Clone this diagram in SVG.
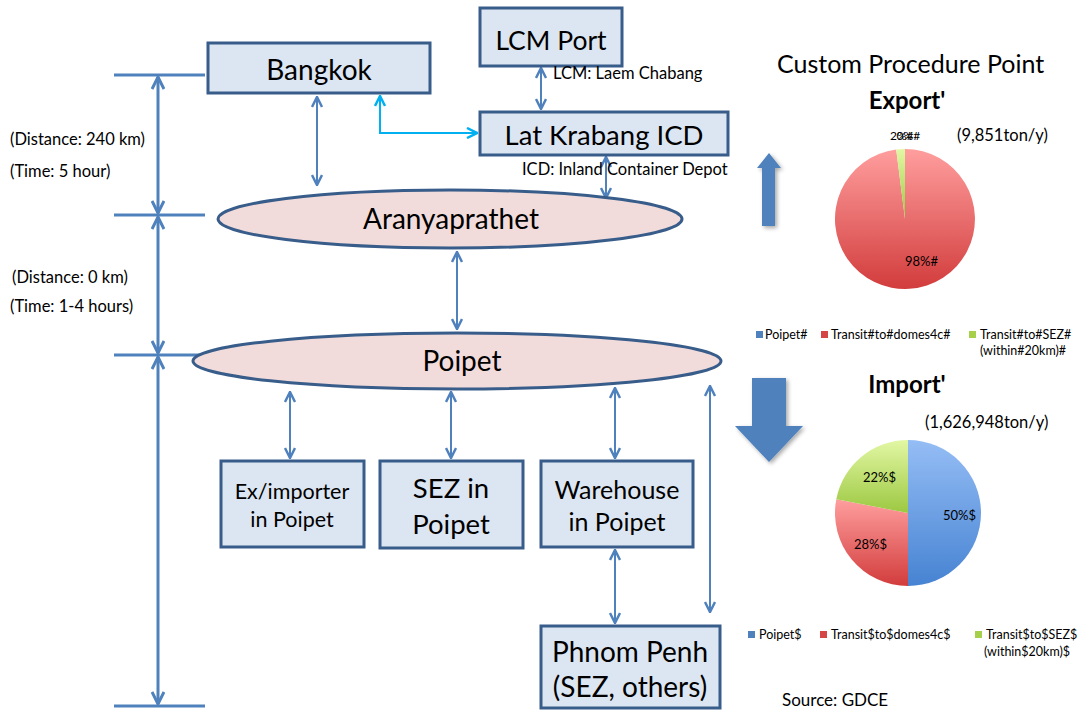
<svg xmlns="http://www.w3.org/2000/svg" width="1087" height="713" viewBox="0 0 1087 713">
  <style>
    text { font-family: Lato, "Open Sans", "Liberation Sans", sans-serif; fill: #000; }
    .box { fill: #dce6f2; stroke: #385d8a; stroke-width: 3; }
    .oval { fill: #f2dcdb; stroke: #385d8a; stroke-width: 3; }
    .dim { stroke: #4f81bd; stroke-width: 3; fill: none; }
    .link { stroke: #4f81bd; stroke-width: 2; fill: none; }
    .cyan { stroke: #00b0f0; stroke-width: 2; fill: none; }
    .lbl { font-size: 16.5px; }
    .lg { font-size: 12.5px; }
    .big { font-size: 28px; }
    .pct { font-size: 13px; }
  </style>
  <defs>
    <marker id="chev" viewBox="0 0 12 12" refX="11" refY="6" markerWidth="12" markerHeight="12" orient="auto-start-reverse" markerUnits="userSpaceOnUse">
      <path d="M1,1 L11,6 L1,11" fill="none" stroke="#4f81bd" stroke-width="2.5"/>
    </marker>
    <marker id="chevDim" viewBox="0 0 14 14" refX="13" refY="7" markerWidth="14" markerHeight="14" orient="auto-start-reverse" markerUnits="userSpaceOnUse">
      <path d="M1,1 L13,7 L1,13" fill="none" stroke="#4f81bd" stroke-width="3"/>
    </marker>
    <marker id="chevCyan" viewBox="0 0 12 12" refX="11" refY="6" markerWidth="12" markerHeight="12" orient="auto-start-reverse" markerUnits="userSpaceOnUse">
      <path d="M1,1 L11,6 L1,11" fill="none" stroke="#00b0f0" stroke-width="2.5"/>
    </marker>
    <linearGradient id="gRed" x1="0" y1="0" x2="0" y2="1">
      <stop offset="0" stop-color="#ff9e9e"/>
      <stop offset="1" stop-color="#d23c3c"/>
    </linearGradient>
    <linearGradient id="gBlue" x1="0" y1="0" x2="0" y2="1">
      <stop offset="0" stop-color="#95bdf5"/>
      <stop offset="1" stop-color="#4683d2"/>
    </linearGradient>
    <linearGradient id="gGreen" x1="0" y1="0" x2="0" y2="1">
      <stop offset="0" stop-color="#e2f7a4"/>
      <stop offset="1" stop-color="#9cc841"/>
    </linearGradient>
    <filter id="shadow" x="-30%" y="-30%" width="160%" height="160%">
      <feGaussianBlur in="SourceAlpha" stdDeviation="2"/>
      <feOffset dx="2" dy="2" result="b"/>
      <feComponentTransfer><feFuncA type="linear" slope="0.35"/></feComponentTransfer>
      <feMerge><feMergeNode/><feMergeNode in="SourceGraphic"/></feMerge>
    </filter>
  </defs>

  <!-- distance / time scale on the left -->
  <g id="scale">
    <line class="dim" x1="114" y1="75" x2="205" y2="75"/>
    <line class="dim" x1="114" y1="215" x2="205" y2="215"/>
    <line class="dim" x1="114" y1="355" x2="205" y2="355"/>
    <line class="dim" x1="114" y1="706" x2="205" y2="706"/>
    <line class="dim" x1="158" y1="77" x2="158" y2="213" marker-start="url(#chevDim)" marker-end="url(#chevDim)"/>
    <line class="dim" x1="158" y1="217" x2="158" y2="353" marker-start="url(#chevDim)" marker-end="url(#chevDim)"/>
    <line class="dim" x1="158" y1="357" x2="158" y2="704" marker-start="url(#chevDim)" marker-end="url(#chevDim)"/>
    <text class="lbl" x="10" y="145">(Distance: 240 km)</text>
    <text class="lbl" x="10" y="177">(Time: 5 hour)</text>
    <text class="lbl" x="12" y="283">(Distance: 0 km)</text>
    <text class="lbl" x="10" y="312">(Time: 1-4 hours)</text>
  </g>

  <!-- connectors -->
  <g id="connectors">
    <line class="link" x1="317" y1="97" x2="317" y2="185" marker-start="url(#chev)" marker-end="url(#chev)"/>
    <path class="cyan" d="M380,96 L380,133 L477,133" marker-start="url(#chevCyan)" marker-end="url(#chevCyan)"/>
    <line class="link" x1="541" y1="68" x2="541" y2="109" marker-start="url(#chev)" marker-end="url(#chev)"/>
    <line class="link" x1="606" y1="157" x2="606" y2="198" marker-start="url(#chev)" marker-end="url(#chev)"/>
    <line class="link" x1="457" y1="252" x2="457" y2="329" marker-start="url(#chev)" marker-end="url(#chev)"/>
    <line class="link" x1="290" y1="392" x2="290" y2="458" marker-start="url(#chev)" marker-end="url(#chev)"/>
    <line class="link" x1="451" y1="392" x2="451" y2="458" marker-start="url(#chev)" marker-end="url(#chev)"/>
    <line class="link" x1="615" y1="388" x2="615" y2="458" marker-start="url(#chev)" marker-end="url(#chev)"/>
    <line class="link" x1="710" y1="386" x2="710" y2="612" marker-start="url(#chev)" marker-end="url(#chev)"/>
    <line class="link" x1="615" y1="550" x2="615" y2="623" marker-start="url(#chev)" marker-end="url(#chev)"/>
  </g>

  <g id="bangkok">
    <rect class="box" x="208" y="43" width="222" height="50"/>
    <text class="big" x="319" y="80" text-anchor="middle">Bangkok</text>
  </g>
  <g id="lcm-port">
    <rect class="box" x="480" y="8" width="142" height="58"/>
    <text x="551" y="50" font-size="26.5" text-anchor="middle">LCM Port</text>
    <text class="lbl" x="553" y="79">LCM: Laem Chabang</text>
  </g>
  <g id="lat-krabang">
    <rect class="box" x="480" y="112" width="248" height="43"/>
    <text x="604" y="145" font-size="27.5" text-anchor="middle">Lat Krabang ICD</text>
    <text class="lbl" x="522" y="175">ICD: Inland Container Depot</text>
  </g>
  <g id="aranyaprathet">
    <ellipse class="oval" cx="450" cy="219" rx="232" ry="29"/>
    <text class="big" x="451" y="229" text-anchor="middle">Aranyaprathet</text>
  </g>
  <g id="poipet">
    <ellipse class="oval" cx="457" cy="361" rx="264" ry="28"/>
    <text class="big" x="462" y="371" text-anchor="middle">Poipet</text>
  </g>
  <g id="ex-importer">
    <rect class="box" x="221" y="461" width="143" height="86"/>
    <text x="292" y="499" font-size="21.5" text-anchor="middle">Ex/importer</text>
    <text x="292" y="527" font-size="21.5" text-anchor="middle">in Poipet</text>
  </g>
  <g id="sez-poipet">
    <rect class="box" x="380" y="461" width="143" height="87"/>
    <text x="451" y="498" font-size="27.5" text-anchor="middle">SEZ in</text>
    <text x="451" y="534" font-size="27.5" text-anchor="middle">Poipet</text>
  </g>
  <g id="warehouse">
    <rect class="box" x="541" y="461" width="152" height="86"/>
    <text x="617" y="499" font-size="25" text-anchor="middle">Warehouse</text>
    <text x="617" y="531" font-size="25" text-anchor="middle">in Poipet</text>
  </g>
  <g id="phnom-penh">
    <rect class="box" x="541" y="626" width="179" height="82"/>
    <text x="630" y="662" font-size="28" text-anchor="middle">Phnom Penh</text>
    <text x="630" y="697" font-size="28" text-anchor="middle">(SEZ, others)</text>
  </g>

  <!-- customs charts -->
  <g id="custom-point">
    <text x="777" y="73" font-size="25">Custom Procedure Point</text>
  </g>

  <g id="export-chart">
    <path d="M762,226 L762,168 L757,168 L769,153 L781,168 L775,168 L775,226 Z" fill="#4f81bd" filter="url(#shadow)"/>
    <text x="907" y="109" font-size="24" font-weight="bold" text-anchor="middle">Export'</text>
    <text x="957" y="141" font-size="16.5">(9,851ton/y)</text>
    <path d="M905,219 L905,149 A70,70 0 1,1 896.2,149.55 Z" fill="url(#gRed)"/>
    <path d="M905,219 L896.2,149.55 A70,70 0 0,1 905,149 Z" fill="url(#gGreen)"/>
    <text x="890" y="140" font-size="12">2%#<tspan dx="-17">0%#</tspan></text>
    <text class="pct" x="905" y="266">98%#</text>
    <rect x="756" y="331" width="7" height="7" fill="#4f81bd"/>
    <text class="lg" x="765" y="339">Poipet#</text>
    <rect x="821" y="331" width="7" height="7" fill="#d64545"/>
    <text class="lg" x="831" y="339">Transit#to#domes4c#</text>
    <rect x="969" y="331" width="7" height="7" fill="#a6d04a"/>
    <text class="lg" x="980" y="339">Transit#to#SEZ#</text>
    <text class="lg" x="980" y="355">(within#20km)#</text>
  </g>

  <g id="import-chart">
    <path d="M752,378 L786,378 L786,426 L803,426 L769,462 L735,426 L752,426 Z" fill="#4f81bd" filter="url(#shadow)"/>
    <text x="907" y="393" font-size="24" font-weight="bold" text-anchor="middle">Import'</text>
    <text x="925" y="428" font-size="16.5">(1,626,948ton/y)</text>
    <path d="M908,513 L908,440 A73,73 0 0,1 908,586 Z" fill="url(#gBlue)"/>
    <path d="M908,513 L908,586 A73,73 0 0,1 836.3,499.3 Z" fill="url(#gRed)"/>
    <path d="M908,513 L836.3,499.3 A73,73 0 0,1 908,440 Z" fill="url(#gGreen)"/>
    <text class="pct" x="943" y="520">50%$</text>
    <text class="pct" x="854" y="549">28%$</text>
    <text class="pct" x="863" y="482">22%$</text>
    <rect x="748" y="631" width="7" height="7" fill="#4f81bd"/>
    <text class="lg" x="759" y="639">Poipet$</text>
    <rect x="820" y="631" width="7" height="7" fill="#d64545"/>
    <text class="lg" x="831" y="639">Transit$to$domes4c$</text>
    <rect x="975" y="631" width="7" height="7" fill="#a6d04a"/>
    <text class="lg" x="986" y="639">Transit$to$SEZ$</text>
    <text class="lg" x="984" y="656">(within$20km)$</text>
    <text x="782" y="706" font-size="17">Source: GDCE</text>
  </g>
</svg>
